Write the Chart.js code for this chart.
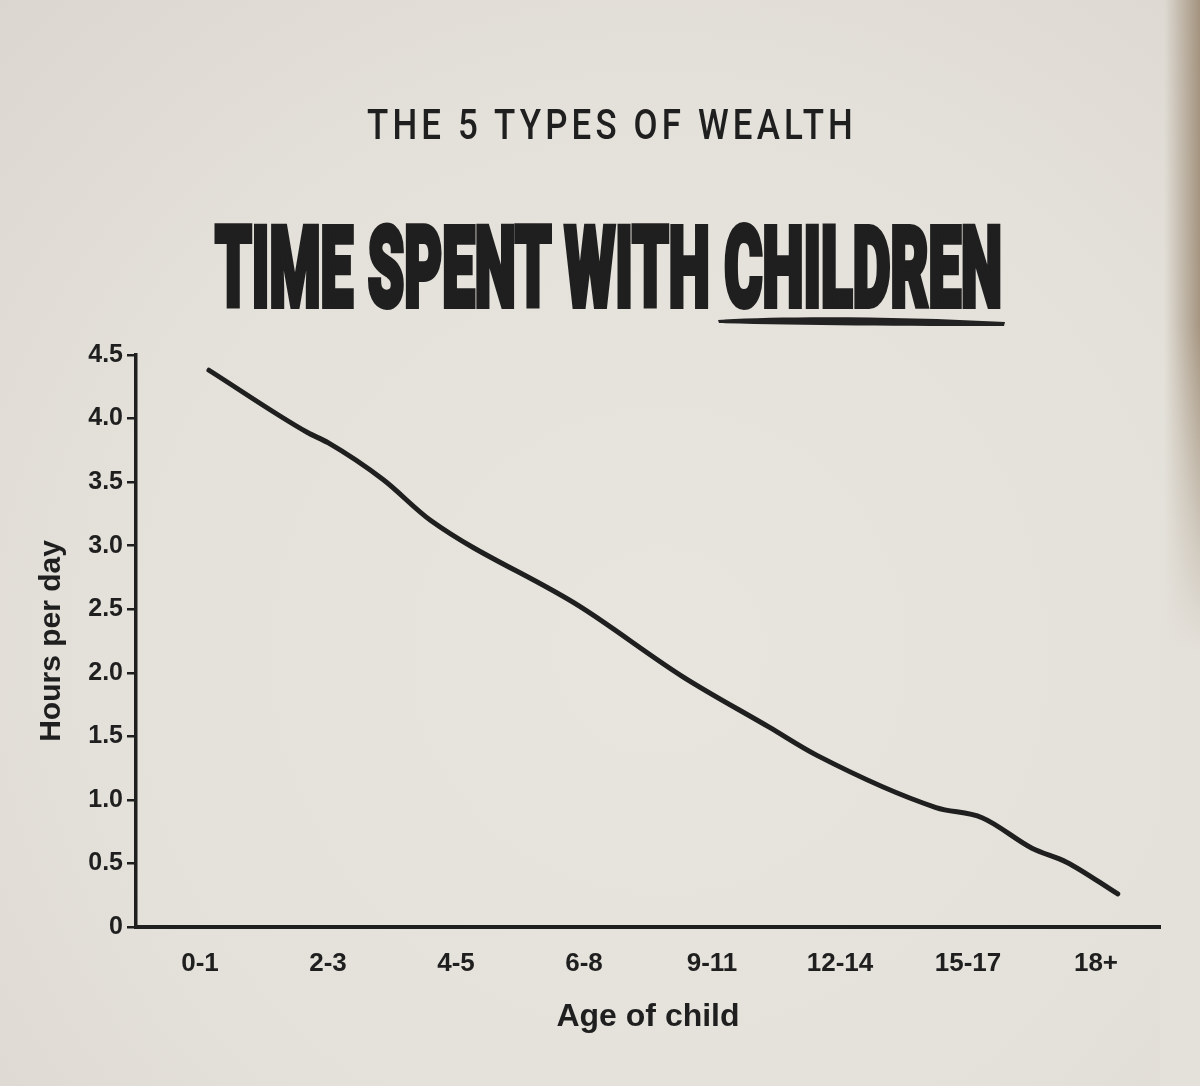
<!DOCTYPE html>
<html>
<head>
<meta charset="utf-8">
<script src="https://cdn.jsdelivr.net/npm/chart.js@4.4.0/dist/chart.umd.min.js"></script>
<style>
  html, body { margin: 0; padding: 0; }
  body {
    width: 1200px; height: 1086px; overflow: hidden; position: relative;
    background:
      linear-gradient(to bottom, rgba(228,225,218,0) 0%, rgba(228,225,218,0) 30%, #e4e1da 60%) 1160px 0 / 40px 1086px no-repeat,
      linear-gradient(to right, rgba(0,0,0,0) 97%, rgba(125,100,70,0.6) 100%),
      radial-gradient(ellipse at 55% 60%, #e8e5df 0%, #e4e1da 60%, #dbd7d0 100%);
    font-family: "Liberation Sans", Arial, sans-serif;
  }
  #wrap { position: absolute; left: 0; top: 0; width: 1200px; height: 1086px; }
  .head { position: absolute; left: 0; white-space: nowrap; color: #1f1f1f; transform-origin: 0 50%; }
  #kicker { top: 98px; font-family: Roboto, sans-serif; font-weight: 500; font-size: 42px; letter-spacing: 5px; line-height: 54px; }
  #title { top: 206px; font-family: Roboto, sans-serif; font-weight: 900; font-size: 112px; line-height: 124px; -webkit-text-stroke: 6px #1f1f1f; }
  #brush { position: absolute; left: 716px; top: 313px; }
</style>
</head>
<body>
<div id="wrap"><canvas id="chart" width="1200" height="1086"></canvas></div>
<div class="head" id="kicker">THE 5 TYPES OF WEALTH</div>
<div class="head" id="title">TIME SPENT WITH CHILDREN</div>
<svg id="brush" width="292" height="18" viewBox="0 0 292 18">
  <path d="M2 7 C 60 3, 180 3, 289 9 L 288 13 C 190 13, 80 12, 3 10 Z" fill="#222"/>
</svg>
<script>
// --- DADOS ---
const ageLabels = ['0-1', '2-3', '4-5', '6-8', '9-11', '12-14', '15-17', '18+'];
// posição ao longo do eixo (índice da faixa etária) e horas por dia
const agePos = [0.07, 0.84, 1.0, 1.43, 1.80, 2.97, 3.77, 4.45, 4.82, 5.75, 6.11, 6.50, 6.77, 7.17];
const hoursPerDay = [4.38, 3.89, 3.81, 3.52, 3.20, 2.52, 1.97, 1.57, 1.35, 0.94, 0.86, 0.62, 0.51, 0.26];
const yTicks = [0, 0.5, 1.0, 1.5, 2.0, 2.5, 3.0, 3.5, 4.0, 4.5];

const ink = '#1f1f1f';

// ajusta os títulos em HTML para a largura certa
function fitHead(id, left, width) {
    const el = document.getElementById(id);
    const w = el.getBoundingClientRect().width;
    el.style.left = left + 'px';
    el.style.transform = 'scaleX(' + (width / w) + ')';
}
fitHead('kicker', 367, 490);
fitHead('title', 215, 787);

function createChart() {
    const ctx = document.getElementById('chart').getContext('2d');
    new Chart(ctx, {
        type: 'line',
        data: {
            datasets: [{
                label: 'Hours per day',
                data: agePos.map((x, i) => ({ x: x, y: hoursPerDay[i] })),
                borderColor: ink,
                borderWidth: 5,
                borderCapStyle: 'round',
                borderJoinStyle: 'round',
                pointRadius: 0,
                cubicInterpolationMode: 'monotone',
                fill: false
            }]
        },
        options: {
            responsive: false,
            animation: false,
            layout: { padding: { left: 0, top: 355, right: 40, bottom: 36 } },
            plugins: { legend: { display: false }, tooltip: { enabled: false } },
            scales: {
                x: {
                    type: 'linear',
                    min: -0.5,
                    max: 7.5,
                    afterBuildTicks: scale => { scale.ticks = ageLabels.map((_, i) => ({ value: i })); },
                    afterFit: scale => { scale.height = 123; },
                    grid: { display: false, drawTicks: false },
                    border: { display: true, color: ink, width: 4 },
                    ticks: {
                        color: ink,
                        padding: 21,
                        maxRotation: 0,
                        autoSkip: false,
                        font: { family: 'Liberation Sans', weight: 'bold', size: 26 },
                        callback: v => ageLabels[v]
                    },
                    title: {
                        display: true,
                        text: 'Age of child',
                        color: ink,
                        padding: { top: 0, bottom: 14 },
                        font: { family: 'Liberation Sans', weight: 'bold', size: 32 }
                    }
                },
                y: {
                    min: 0,
                    max: 4.5,
                    afterBuildTicks: scale => { scale.ticks = yTicks.map(v => ({ value: v })); },
                    afterFit: scale => { scale.width = 136; },
                    grid: { drawOnChartArea: false, drawTicks: true, tickLength: 9, color: ink, lineWidth: 2.5 },
                    border: { display: true, color: ink, width: 3.5 },
                    ticks: {
                        color: ink,
                        padding: 4,
                        font: { family: 'Liberation Sans', weight: 'bold', size: 25 },
                        callback: v => v === 0 ? '0' : v.toFixed(1)
                    },
                    title: {
                        display: true,
                        text: 'Hours per day',
                        color: ink,
                        padding: { top: 34, bottom: 0 },
                        font: { family: 'Liberation Sans', weight: 'bold', size: 30 }
                    }
                }
            }
        }
    });
}

createChart();
</script>
</body>
</html>
